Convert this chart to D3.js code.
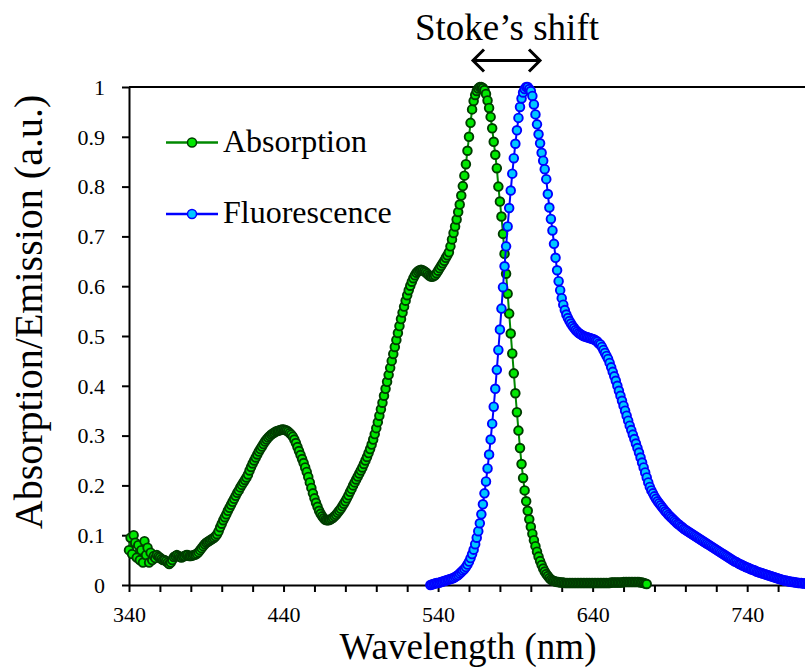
<!DOCTYPE html>
<html>
<head>
<meta charset="utf-8">
<script src="https://cdn.jsdelivr.net/npm/d3@7/dist/d3.min.js"></script>
<style>
html,body{margin:0;padding:0;background:#fff;overflow:hidden;}
svg{display:block;}
text{font-family:"Liberation Serif","Times New Roman","DejaVu Serif",serif;fill:#000;}
</style>
</head>
<body>
<svg id="chart" width="805" height="668"></svg>
<script>
// ---------- data ----------
const absStart = 340; // nm, step 1 nm
const absorption = [
0.07,0.095,0.062,0.1,0.085,0.055,0.08,0.05,0.07,0.045,
0.088,0.06,0.075,0.045,0.065,0.05,0.058,0.054,0.06,0.057,
0.055,0.052,0.05,0.05,0.048,0.045,0.042,0.045,0.05,0.056,
0.058,0.06,0.058,0.056,0.055,0.057,0.058,0.06,0.06,0.058,
0.058,0.059,0.06,0.061,0.063,0.066,0.07,0.074,0.078,0.082,
0.085,0.087,0.089,0.091,0.093,0.095,0.098,0.102,0.108,0.116,
0.123,0.13,0.136,0.142,0.149,0.155,0.161,0.167,0.173,0.179,
0.185,0.19,0.196,0.201,0.206,0.211,0.216,0.222,0.23,0.237,
0.244,0.25,0.256,0.262,0.268,0.273,0.278,0.283,0.288,0.292,
0.296,0.299,0.302,0.304,0.306,0.308,0.309,0.31,0.311,0.312,
0.312,0.311,0.31,0.308,0.305,0.302,0.298,0.292,0.285,0.277,
0.269,0.261,0.253,0.245,0.236,0.227,0.217,0.206,0.195,0.184,
0.174,0.165,0.157,0.149,0.143,0.138,0.134,0.131,0.13,0.13,
0.131,0.133,0.135,0.138,0.141,0.145,0.149,0.153,0.158,0.163,
0.168,0.174,0.18,0.187,0.193,0.2,0.206,0.212,0.218,0.224,
0.23,0.236,0.243,0.25,0.257,0.265,0.273,0.282,0.292,0.303,
0.315,0.327,0.34,0.353,0.366,0.38,0.394,0.408,0.422,0.436,
0.45,0.464,0.478,0.492,0.506,0.52,0.534,0.547,0.559,0.571,
0.582,0.592,0.601,0.609,0.616,0.622,0.627,0.63,0.632,0.633,
0.632,0.63,0.628,0.625,0.622,0.62,0.619,0.62,0.622,0.626,
0.631,0.636,0.641,0.646,0.651,0.657,0.662,0.668,0.68,0.694,
0.707,0.72,0.734,0.749,0.764,0.782,0.801,0.822,0.845,0.872,
0.9,0.928,0.955,0.972,0.984,0.992,0.997,1.0,1.0,0.998,
0.994,0.986,0.973,0.958,0.94,0.917,0.89,0.864,0.837,0.8,
0.77,0.74,0.705,0.665,0.625,0.585,0.545,0.505,0.465,0.425,
0.385,0.347,0.31,0.275,0.243,0.215,0.19,0.168,0.149,0.132,
0.117,0.103,0.09,0.078,0.067,0.057,0.048,0.04,0.033,0.027,
0.022,0.018,0.014,0.011,0.009,0.008,0.007,0.006,0.006,0.005,
0.005,0.005,0.004,0.004,0.004,0.004,0.004,0.004,0.004,0.004,
0.004,0.004,0.004,0.004,0.004,0.004,0.004,0.004,0.004,0.004,
0.004,0.004,0.004,0.004,0.004,0.004,0.004,0.004,0.004,0.004,
0.004,0.004,0.005,0.005,0.005,0.005,0.005,0.005,0.005,0.005,
0.006,0.006,0.006,0.006,0.006,0.006,0.006,0.006,0.006,0.006,
0.006,0.005,0.005,0.004,0.003,0.002
];
const fluStart = 535; // nm, step 1 nm
const fluorescence = [
0.0,0.001,0.002,0.003,0.004,0.004,0.005,0.006,0.007,0.008,
0.009,0.01,0.011,0.012,0.013,0.014,0.016,0.018,0.02,0.023,
0.026,0.029,0.032,0.036,0.041,0.047,0.054,0.062,0.071,0.082,
0.095,0.108,0.124,0.142,0.162,0.184,0.208,0.234,0.262,0.292,
0.324,0.358,0.394,0.432,0.472,0.513,0.555,0.598,0.64,0.68,
0.72,0.757,0.792,0.826,0.857,0.886,0.913,0.938,0.96,0.977,
0.989,0.996,1.0,1.0,0.996,0.992,0.982,0.965,0.945,0.925,
0.905,0.887,0.868,0.852,0.835,0.815,0.785,0.758,0.735,0.712,
0.685,0.657,0.632,0.61,0.592,0.576,0.563,0.552,0.543,0.536,
0.53,0.525,0.52,0.516,0.512,0.509,0.506,0.504,0.502,0.5,
0.499,0.498,0.497,0.496,0.495,0.494,0.493,0.491,0.489,0.485,
0.483,0.478,0.472,0.466,0.46,0.454,0.446,0.437,0.428,0.419,
0.41,0.4,0.39,0.38,0.37,0.36,0.35,0.34,0.33,0.32,
0.311,0.302,0.293,0.284,0.275,0.266,0.256,0.246,0.236,0.226,
0.216,0.206,0.197,0.19,0.184,0.178,0.173,0.168,0.164,0.16,
0.156,0.152,0.148,0.145,0.141,0.138,0.135,0.132,0.129,0.126,
0.123,0.121,0.118,0.116,0.113,0.111,0.109,0.107,0.105,0.103,
0.101,0.099,0.097,0.095,0.093,0.091,0.089,0.087,0.085,0.083,
0.081,0.079,0.077,0.075,0.073,0.071,0.069,0.067,0.065,0.063,
0.061,0.059,0.057,0.055,0.053,0.051,0.049,0.047,0.046,0.044,
0.042,0.041,0.039,0.038,0.036,0.035,0.034,0.032,0.031,0.03,
0.029,0.027,0.026,0.025,0.024,0.023,0.022,0.021,0.02,0.019,
0.018,0.017,0.016,0.015,0.014,0.013,0.012,0.011,0.01,0.009,
0.009,0.008,0.007,0.007,0.006,0.006,0.005,0.005,0.004,0.004,
0.004,0.003,0.003,0.003,0.002,0.002
];
const xTickLabels = [340, 440, 540, 640, 740];
const yTickLabels = [0, 0.1, 0.2, 0.3, 0.4, 0.5, 0.6, 0.7, 0.8, 0.9, 1];
const seriesNames = ["Absorption", "Fluorescence"];
const titleText = "Stoke\u2019s shift";
const xTitle = "Wavelength (nm)";
const yTitle = "Absorption/Emission (a.u.)";

// ---------- chart ----------
const svg = d3.select("#chart");
const x = d3.scaleLinear().domain([340, 780]).range([129, 809]);
const y = d3.scaleLinear().domain([0, 1]).range([585, 87]);

const absData = absorption.map((v, i) => ({x: absStart + i, y: v}));
const fluData = fluorescence.map((v, i) => ({x: fluStart + i, y: v}));

// plot border (top & right)
svg.append("path")
  .attr("d", `M${x(340)},${y(1)}H${x(780)}V${y(0)}`)
  .attr("fill", "none").attr("stroke", "#000").attr("stroke-width", 2);

// x axis
const xAxis = d3.axisBottom(x)
  .tickValues(d3.range(340, 781, 20))
  .tickSize(7).tickSizeOuter(0)
  .tickFormat(d => xTickLabels.includes(d) ? d : "");
const gx = svg.append("g").attr("transform", `translate(0,${y(0)})`).call(xAxis);
gx.attr("font-family", null);
gx.select(".domain").attr("stroke-width", 2);
gx.selectAll(".tick line").attr("stroke-width", 2);
gx.selectAll(".tick text").attr("font-size", 22).attr("y", 37).attr("dy", 0);

// y axis
const yAxis = d3.axisLeft(y)
  .tickValues(yTickLabels)
  .tickSize(7).tickSizeOuter(0)
  .tickFormat(d => d3.format("~g")(d));
const gy = svg.append("g").attr("transform", `translate(${x(340)},0)`).call(yAxis);
gy.attr("font-family", null);
gy.select(".domain").attr("stroke-width", 2);
gy.selectAll(".tick line").attr("stroke-width", 2);
gy.selectAll(".tick text").attr("font-size", 22).attr("x", -24).attr("dy", "0.33em");

// axis titles
svg.append("text").attr("x", 468).attr("y", 659).attr("text-anchor", "middle")
  .attr("font-size", 37).text(xTitle);
svg.append("text").attr("transform", "translate(42,312) rotate(-90)")
  .attr("text-anchor", "middle").attr("font-size", 40).text(yTitle);

// series
const line = d3.line().x(d => x(d.x)).y(d => y(d.y));
const styles = [
  {data: absData, line: "#008800", fill: "#00e800", stroke: "#003c00"},
  {data: fluData, line: "#0000ff", fill: "#00c8ff", stroke: "#0000ff"}
];
styles.forEach(s => {
  const g = svg.append("g");
  g.append("path").datum(s.data).attr("d", line)
    .attr("fill", "none").attr("stroke", s.line).attr("stroke-width", 2);
  g.selectAll("circle").data(s.data).enter().append("circle")
    .attr("cx", d => x(d.x)).attr("cy", d => y(d.y)).attr("r", 4.3)
    .attr("fill", s.fill).attr("stroke", s.stroke).attr("stroke-width", 1.9);
});

// legend
const legendY = [142.5, 214];
styles.forEach((s, i) => {
  const g = svg.append("g");
  g.append("line").attr("x1", 166).attr("x2", 218).attr("y1", legendY[i]).attr("y2", legendY[i])
    .attr("stroke", s.line).attr("stroke-width", 2.5);
  g.append("circle").attr("cx", 192).attr("cy", legendY[i]).attr("r", 4.5)
    .attr("fill", s.fill).attr("stroke", s.stroke).attr("stroke-width", 1.5);
  g.append("text").attr("x", 223).attr("y", legendY[i] + 9).attr("font-size", 32)
    .text(seriesNames[i]);
});

// title and arrow
svg.append("text").attr("x", 507).attr("y", 40).attr("text-anchor", "middle")
  .attr("font-size", 37).text(titleText);
const ay = 60.5, ax1 = 473, ax2 = 540, ah = 11;
svg.append("path")
  .attr("d", `M${ax1},${ay}H${ax2}M${ax1+ah},${ay-ah}L${ax1},${ay}L${ax1+ah},${ay+ah}M${ax2-ah},${ay-ah}L${ax2},${ay}L${ax2-ah},${ay+ah}`)
  .attr("fill", "none").attr("stroke", "#000").attr("stroke-width", 3);
</script>
</body>
</html>
